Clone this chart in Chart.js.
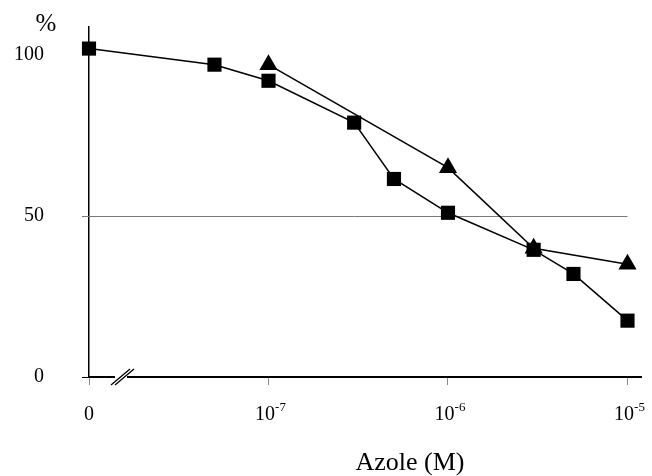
<!DOCTYPE html>
<html>
<head>
<meta charset="utf-8">
<script src="https://cdn.jsdelivr.net/npm/chart.js@4/dist/chart.umd.min.js"></script>
<style>
html,body{margin:0;padding:0;background:#fff;}
#c{display:block;}
</style>
</head>
<body>
<canvas id="c" width="652" height="476"></canvas>
<script>
// ---- data (concentration in M, response in %) ----
const concSquare = [0, 5e-8, 1e-7, 3e-7, 5e-7, 1e-6, 3e-6, 5e-6, 1e-5];
const pctSquare  = [102, 97, 92, 79, 61.5, 51, 39.5, 32, 17.5];
const concTriangle = [1e-7, 1e-6, 3e-6, 1e-5];
const pctTriangle  = [97, 65, 40, 35];
const xTickConc   = [0, 1e-7, 1e-6, 1e-5];
const xTickBase   = ['0', '10', '10', '10'];
const xTickExp    = ['', '-7', '-6', '-5'];
const yTickValues = [0, 50, 100];
const refLineValue = 50;
const xTitle = 'Azole (M)';
const yTitle = '%';

// zero is drawn one decade below 1e-7 (axis break)
const ZERO_POS = -8;
const toX = c => c === 0 ? ZERO_POS : Math.log10(c);
const pts = (xs, ys) => xs.map((c, i) => ({x: toX(c), y: ys[i]}));

const FONT = '"Liberation Serif", "Times New Roman", serif';

const refLine = {
  id: 'refLine',
  beforeDatasetsDraw(chart) {
    const ctx = chart.ctx;
    const y = Math.round(chart.scales.y.getPixelForValue(refLineValue)) + 0.5;
    const x1 = chart.scales.x.getPixelForValue(toX(1e-5));
    ctx.save();
    ctx.strokeStyle = '#7a7a7a';
    ctx.lineWidth = 1;
    ctx.beginPath();
    ctx.moveTo(chart.chartArea.left - 7, y);
    ctx.lineTo(x1, y);
    ctx.stroke();
    ctx.restore();
  }
};

const decor = {
  id: 'decor',
  afterDraw(chart) {
    const ctx = chart.ctx;
    const xs = chart.scales.x;
    const area = chart.chartArea;
    ctx.save();
    ctx.fillStyle = '#000';
    // x tick labels with superscript exponents
    xTickConc.forEach((c, i) => {
      const px = xs.getPixelForValue(toX(c));
      ctx.font = '20px ' + FONT;
      const wb = ctx.measureText(xTickBase[i]).width;
      ctx.font = '13px ' + FONT;
      const we = xTickExp[i] ? ctx.measureText(xTickExp[i]).width : 0;
      const start = px - (wb + we) / 2 + (xTickExp[i] ? 2 : 0);
      ctx.textBaseline = 'alphabetic';
      ctx.textAlign = 'left';
      ctx.font = '20px ' + FONT;
      ctx.fillText(xTickBase[i], start, area.bottom + 43);
      if (xTickExp[i]) {
        ctx.font = '13px ' + FONT;
        ctx.fillText(xTickExp[i], start + wb, area.bottom + 34);
      }
    });
    // axis title
    ctx.font = '26px ' + FONT;
    ctx.textAlign = 'center';
    ctx.textBaseline = 'middle';
    ctx.fillText(xTitle, 410, 463);
    // y unit
    ctx.font = '25px ' + FONT;
    ctx.fillText(yTitle, 46, 24);
    // axis break
    const bx = area.left + 32;
    const by = area.bottom;
    ctx.fillStyle = '#fff';
    ctx.fillRect(bx - 6, by - 3, 12, 6);
    ctx.strokeStyle = '#000';
    ctx.lineWidth = 1.3;
    ctx.beginPath();
    ctx.moveTo(bx - 10, by + 8); ctx.lineTo(bx + 9, by - 8);
    ctx.moveTo(bx - 6, by + 8);  ctx.lineTo(bx + 13, by - 8);
    ctx.stroke();
    ctx.restore();
  }
};

new Chart(document.getElementById('c'), {
  type: 'line',
  data: {
    datasets: [
      {
        label: 'square',
        data: pts(concSquare, pctSquare),
        borderColor: '#000',
        backgroundColor: '#000',
        borderWidth: 1.5,
        pointStyle: 'rect',
        pointRadius: 10,
        pointBorderWidth: 0,
        tension: 0,
        clip: false
      },
      {
        label: 'triangle',
        data: pts(concTriangle, pctTriangle),
        borderColor: '#000',
        backgroundColor: '#000',
        borderWidth: 1.5,
        pointStyle: 'triangle',
        pointRadius: 10.5,
        pointBorderWidth: 0,
        tension: 0,
        clip: false
      }
    ]
  },
  options: {
    responsive: false,
    animation: false,
    layout: { padding: { left: 0, top: 27, right: 9, bottom: 0 } },
    plugins: { legend: { display: false }, tooltip: { enabled: false } },
    scales: {
      x: {
        type: 'linear',
        min: ZERO_POS,
        max: -4.922,
        afterBuildTicks: s => { s.ticks = xTickConc.map(c => ({ value: toX(c) })); },
        afterFit: s => { s.height = 99; s.paddingLeft = 0; s.paddingRight = 0; },
        ticks: { display: false },
        grid: { drawOnChartArea: false, drawTicks: true, tickLength: 8, tickColor: '#888', lineWidth: 1 },
        border: { display: true, color: '#000', width: 2 }
      },
      y: {
        type: 'linear',
        min: 0,
        max: 108.7,
        afterBuildTicks: s => { s.ticks = yTickValues.map(v => ({ value: v })); },
        afterFit: s => { s.width = 89; s.paddingTop = 0; s.paddingBottom = 0; },
        ticks: {
          color: '#000',
          font: { family: FONT, size: 20 },
          padding: 38,
          callback: v => String(v)
        },
        grid: {
          drawTicks: true,
          tickLength: 7,
          lineWidth: 1,
          color: 'rgba(0,0,0,0)',
          tickColor: c => c.tick && c.tick.value === 0 ? '#000' : 'rgba(0,0,0,0)'
        },
        border: { display: true, color: '#000', width: 1.5 }
      }
    }
  },
  plugins: [refLine, decor]
});
</script>
</body>
</html>
